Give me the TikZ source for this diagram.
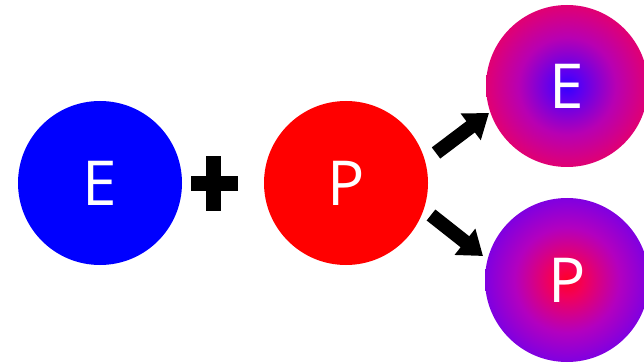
\documentclass[tikz,border=0pt]{standalone}
\usepackage{fontspec}
\setmainfont{Open Sans}
\usetikzlibrary{arrows.meta}
\definecolor{eblue}{HTML}{0000FF}
\definecolor{pred}{HTML}{FF0000}
\pgfdeclareradialshading{eshade}{\pgfpoint{0bp}{0bp}}{rgb(0bp)=(0.2,0,1); rgb(4bp)=(0.35,0,0.95); rgb(15bp)=(0.72,0,0.7); rgb(25bp)=(0.88,0,0.45); rgb(50bp)=(0.88,0,0.45)}
\pgfdeclareradialshading{pshade}{\pgfpoint{0bp}{0bp}}{rgb(0bp)=(1,0,0.15); rgb(5bp)=(0.95,0,0.35); rgb(16bp)=(0.7,0,0.75); rgb(25bp)=(0.5,0,0.88); rgb(50bp)=(0.5,0,0.88)}
\tikzset{
  ball/.style={circle, inner sep=0pt, minimum size=164pt, text=white, font=\fontsize{62}{62}\selectfont},
  bigarrow/.style={line width=14pt, -{Triangle[length=23pt,width=32pt]}},
}
\begin{document}
\begin{tikzpicture}[x=1pt,y=-1pt]
\useasboundingbox (0,0) rectangle (644,363);
\node[ball, fill=eblue] (e1) at (100,183) {E};
\node[ball, fill=pred] (p1) at (346,183) {P};
\node[ball, shading=eshade, minimum size=162pt] (e2) at (567,86) {E};
\node[ball, shading=pshade] (p2) at (567,280) {P};
\fill (206,156) rectangle (221,211);
\fill (191,176) rectangle (238,191);
\coordinate (a1s) at (436,153);
\coordinate (a2s) at (431,215);
\draw[bigarrow] (a1s) -- (489,113);
\draw[bigarrow] (a2s) -- (483,256);
\end{tikzpicture}
\end{document}
